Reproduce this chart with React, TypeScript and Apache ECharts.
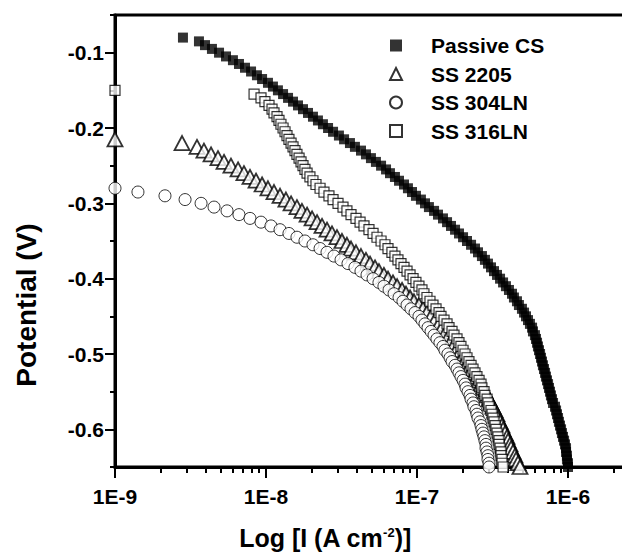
import React, { useEffect, useRef } from 'react';
import * as echarts from 'echarts';

// Potential steps (V), shared by all four scans (each scan ends at -0.650 V)
const potentialV = [
  -0.080, -0.085, -0.090, -0.095, -0.100, -0.105, -0.110, -0.115, -0.120, -0.125,
  -0.130, -0.135, -0.140, -0.145, -0.150, -0.155, -0.160, -0.165, -0.170, -0.175,
  -0.180, -0.185, -0.190, -0.195, -0.200, -0.205, -0.210, -0.215, -0.220, -0.225,
  -0.230, -0.235, -0.240, -0.245, -0.250, -0.255, -0.260, -0.265, -0.270, -0.275,
  -0.280, -0.285, -0.290, -0.295, -0.300, -0.305, -0.310, -0.315, -0.320, -0.325,
  -0.330, -0.335, -0.340, -0.345, -0.350, -0.355, -0.360, -0.365, -0.370, -0.375,
  -0.380, -0.385, -0.390, -0.395, -0.400, -0.405, -0.410, -0.415, -0.420, -0.425,
  -0.430, -0.435, -0.440, -0.445, -0.450, -0.455, -0.460, -0.465, -0.470, -0.475,
  -0.480, -0.485, -0.490, -0.495, -0.500, -0.505, -0.510, -0.515, -0.520, -0.525,
  -0.530, -0.535, -0.540, -0.545, -0.550, -0.555, -0.560, -0.565, -0.570, -0.575,
  -0.580, -0.585, -0.590, -0.595, -0.600, -0.605, -0.610, -0.615, -0.620, -0.625,
  -0.630, -0.635, -0.640, -0.645, -0.650,
];

// log10 of current density (A cm^-2) for each scan, aligned to the end of potentialV
const passiveCSLogI = [
  -8.550, -8.444, -8.404, -8.358, -8.311, -8.265, -8.219, -8.179, -8.139, -8.099,
  -8.060, -8.026, -7.987, -7.954, -7.921, -7.887, -7.854, -7.821, -7.788, -7.755,
  -7.722, -7.689, -7.656, -7.623, -7.589, -7.556, -7.517, -7.483, -7.444, -7.411,
  -7.371, -7.338, -7.305, -7.272, -7.238, -7.205, -7.179, -7.146, -7.119, -7.086,
  -7.060, -7.033, -7.007, -6.974, -6.947, -6.921, -6.887, -6.861, -6.828, -6.801,
  -6.775, -6.748, -6.722, -6.695, -6.669, -6.642, -6.616, -6.596, -6.570, -6.550,
  -6.530, -6.510, -6.490, -6.470, -6.450, -6.430, -6.411, -6.391, -6.371, -6.358,
  -6.338, -6.325, -6.305, -6.291, -6.278, -6.265, -6.252, -6.238, -6.232, -6.219,
  -6.212, -6.205, -6.199, -6.192, -6.185, -6.179, -6.172, -6.166, -6.159, -6.152,
  -6.146, -6.139, -6.132, -6.126, -6.119, -6.113, -6.106, -6.099, -6.086, -6.079,
  -6.073, -6.066, -6.060, -6.053, -6.046, -6.040, -6.033, -6.026, -6.020, -6.013,
  -6.013, -6.007, -6.007, -6.000, -6.000,
];

const ss316LNLogI = [
  -9.000, -8.079, -8.033, -8.007, -7.980, -7.960, -7.947, -7.927, -7.914, -7.901,
  -7.887, -7.874, -7.861, -7.848, -7.834, -7.821, -7.808, -7.795, -7.781, -7.768,
  -7.755, -7.742, -7.728, -7.709, -7.689, -7.669, -7.642, -7.616, -7.583, -7.556,
  -7.523, -7.490, -7.464, -7.437, -7.404, -7.377, -7.351, -7.318, -7.291, -7.265,
  -7.238, -7.212, -7.192, -7.166, -7.146, -7.126, -7.106, -7.086, -7.066, -7.046,
  -7.026, -7.007, -6.987, -6.967, -6.954, -6.934, -6.914, -6.894, -6.874, -6.854,
  -6.841, -6.821, -6.801, -6.788, -6.768, -6.755, -6.735, -6.722, -6.709, -6.695,
  -6.682, -6.669, -6.656, -6.642, -6.629, -6.616, -6.603, -6.589, -6.576, -6.570,
  -6.556, -6.550, -6.536, -6.530, -6.523, -6.510, -6.503, -6.497, -6.490, -6.483,
  -6.477, -6.470, -6.464, -6.457, -6.457, -6.450, -6.444, -6.444, -6.437, -6.437,
  -6.430,
];

const ss2205LogI = [
  -9.000, -8.556, -8.457, -8.411, -8.364, -8.318, -8.278, -8.232, -8.185, -8.146,
  -8.106, -8.066, -8.026, -7.987, -7.947, -7.907, -7.868, -7.834, -7.795, -7.762,
  -7.728, -7.695, -7.662, -7.629, -7.596, -7.563, -7.530, -7.497, -7.464, -7.437,
  -7.404, -7.371, -7.338, -7.311, -7.278, -7.252, -7.219, -7.192, -7.159, -7.132,
  -7.099, -7.073, -7.046, -7.020, -6.987, -6.960, -6.934, -6.907, -6.881, -6.854,
  -6.834, -6.808, -6.788, -6.768, -6.748, -6.728, -6.709, -6.689, -6.675, -6.662,
  -6.649, -6.636, -6.616, -6.603, -6.589, -6.576, -6.563, -6.550, -6.536, -6.523,
  -6.510, -6.497, -6.483, -6.470, -6.464, -6.450, -6.437, -6.430, -6.417, -6.404,
  -6.397, -6.384, -6.377, -6.364, -6.351, -6.344, -6.331, -6.318,
];

const ss304LNLogI = [
  -9.000, -8.848, -8.669, -8.536, -8.430, -8.344, -8.258, -8.179, -8.106, -8.033,
  -7.967, -7.907, -7.848, -7.795, -7.742, -7.689, -7.642, -7.596, -7.550, -7.503,
  -7.457, -7.411, -7.371, -7.331, -7.291, -7.252, -7.219, -7.185, -7.152, -7.119,
  -7.093, -7.066, -7.040, -7.013, -6.987, -6.967, -6.947, -6.927, -6.907, -6.887,
  -6.868, -6.848, -6.828, -6.815, -6.795, -6.781, -6.768, -6.748, -6.735, -6.722,
  -6.709, -6.695, -6.682, -6.675, -6.662, -6.649, -6.642, -6.629, -6.623, -6.609,
  -6.603, -6.596, -6.583, -6.576, -6.570, -6.563, -6.556, -6.550, -6.543, -6.543,
  -6.536, -6.530, -6.530, -6.523, -6.523,
];

const seriesNames = ['Passive CS', 'SS 2205', 'SS 304LN', 'SS 316LN'];

const xMajorTicks = [-9, -8, -7, -6];
const xDecades = [-9, -8, -7, -6];
const xMinorMultipliers = [2, 3, 4, 5, 6, 7, 8, 9];
const yMajorTicks = [-0.6, -0.5, -0.4, -0.3, -0.2, -0.1];
const yMinorTicks = [-0.65, -0.55, -0.45, -0.35, -0.25, -0.15, -0.05];

const X_MIN = -9;
const X_MAX = -5.5;
const Y_MIN = -0.65;
const Y_MAX = -0.05;

const FONT = '"Liberation Sans", Arial, Helvetica, sans-serif';

function toPoints(logI: number[]): number[][] {
  const offset = potentialV.length - logI.length;
  return logI.map((x, i) => [x, potentialV[offset + i]]);
}

export default function App() {
  const ref = useRef<HTMLDivElement | null>(null);

  useEffect(() => {
    if (!ref.current) return;
    const chart = echarts.init(ref.current, undefined, { renderer: 'svg' });

    const xMinorTicks: number[] = [];
    xDecades.forEach((d) => {
      xMinorMultipliers.forEach((m) => {
        const v = d + Math.log10(m);
        if (v < X_MAX) xMinorTicks.push(v);
      });
    });

    const axisLineStyle = { color: '#000', width: 3 };
    const tickLineStyle = { color: '#000', width: 2 };
    const labelStyle = { fontSize: 21, fontWeight: 'bold', fontFamily: FONT, color: '#000' };

    const option: any = {
      animation: false,
      backgroundColor: '#fff',
      grid: {
        left: 115, top: 15, width: 528.5, height: 452,
        outerBoundsMode: 'none', containLabel: false,
        show: true, borderColor: '#000', borderWidth: 3, backgroundColor: 'transparent',
      },
      xAxis: [
        {
          type: 'value', min: X_MIN, max: X_MAX, position: 'bottom',
          axisLine: { show: true, onZero: false, lineStyle: axisLineStyle },
          axisTick: { show: true, customValues: xMajorTicks, length: 11, lineStyle: tickLineStyle },
          axisLabel: {
            show: true, customValues: xMajorTicks, margin: 19,
            formatter: (v: number) => '1E' + Math.round(v), ...labelStyle,
          },
          splitLine: { show: false },
        },
        {
          type: 'value', min: X_MIN, max: X_MAX, position: 'bottom',
          axisLine: { show: false, onZero: false },
          axisTick: { show: true, customValues: xMinorTicks, length: 6, lineStyle: tickLineStyle },
          axisLabel: { show: false },
          splitLine: { show: false },
        },
      ],
      yAxis: [
        {
          type: 'value', min: Y_MIN, max: Y_MAX, position: 'left',
          axisLine: { show: true, onZero: false, lineStyle: axisLineStyle },
          axisTick: { show: true, customValues: yMajorTicks, length: 10, lineStyle: tickLineStyle },
          axisLabel: {
            show: true, customValues: yMajorTicks, margin: 11,
            formatter: (v: number) => v.toFixed(1), ...labelStyle,
          },
          splitLine: { show: false },
        },
        {
          type: 'value', min: Y_MIN, max: Y_MAX, position: 'left',
          axisLine: { show: false, onZero: false },
          axisTick: { show: true, customValues: yMinorTicks, length: 5, lineStyle: tickLineStyle },
          axisLabel: { show: false },
          splitLine: { show: false },
        },
      ],
      legend: {
        orient: 'vertical', left: 389, top: 35, padding: 0,
        itemWidth: 12, itemHeight: 12, itemGap: 7.5,
        selectedMode: false,
        textStyle: { fontSize: 21, fontWeight: 'bold', fontFamily: FONT, color: '#000', padding: [0, 0, 0, 24] },
        data: [
          { name: seriesNames[0], icon: 'rect' },
          { name: seriesNames[1], icon: 'triangle' },
          { name: seriesNames[2], icon: 'circle' },
          { name: seriesNames[3], icon: 'rect' },
        ],
      },
      graphic: [
        {
          type: 'text', x: 325, y: 538, silent: true,
          style: {
            text: 'Log [I (A cm{sup|-2})]',
            fontSize: 25, fontWeight: 'bold', fontFamily: FONT, fill: '#000',
            align: 'center', verticalAlign: 'middle',
            rich: {
              sup: { fontSize: 13, fontWeight: 'bold', fontFamily: FONT, fill: '#000', verticalAlign: 'top' },
            },
          },
        },
        {
          type: 'text', x: 26, y: 305, rotation: Math.PI / 2, silent: true,
          style: {
            text: 'Potential (V)',
            fontSize: 28, fontWeight: 'bold', fontFamily: FONT, fill: '#000',
            align: 'center', verticalAlign: 'middle',
          },
        },
      ],
      series: [
        {
          name: seriesNames[0], type: 'scatter', xAxisIndex: 0, yAxisIndex: 0,
          data: toPoints(passiveCSLogI), symbol: 'rect', symbolSize: 10,
          itemStyle: { color: '#000', borderColor: '#000', borderWidth: 0 },
          silent: true, emphasis: { disabled: true },
        },
        {
          name: seriesNames[1], type: 'scatter', xAxisIndex: 0, yAxisIndex: 0,
          data: toPoints(ss2205LogI), symbol: 'triangle', symbolSize: [15, 14],
          itemStyle: { color: '#fff', borderColor: '#000', borderWidth: 1.8 },
          silent: true, emphasis: { disabled: true },
        },
        {
          name: seriesNames[2], type: 'scatter', xAxisIndex: 0, yAxisIndex: 0,
          data: toPoints(ss304LNLogI), symbol: 'circle', symbolSize: 12,
          itemStyle: { color: '#fff', borderColor: '#000', borderWidth: 1 },
          silent: true, emphasis: { disabled: true },
        },
        {
          name: seriesNames[3], type: 'scatter', xAxisIndex: 0, yAxisIndex: 0,
          data: toPoints(ss316LNLogI), symbol: 'rect', symbolSize: 10,
          itemStyle: { color: '#fff', borderColor: '#000', borderWidth: 1.2 },
          silent: true, emphasis: { disabled: true },
        },
      ],
    };

    chart.setOption(option);
    return () => {
      chart.dispose();
    };
  }, []);

  return (
    <div
      ref={ref}
      style={{ position: 'fixed', left: 0, top: 0, width: 622, height: 554, background: '#fff' }}
    />
  );
}
